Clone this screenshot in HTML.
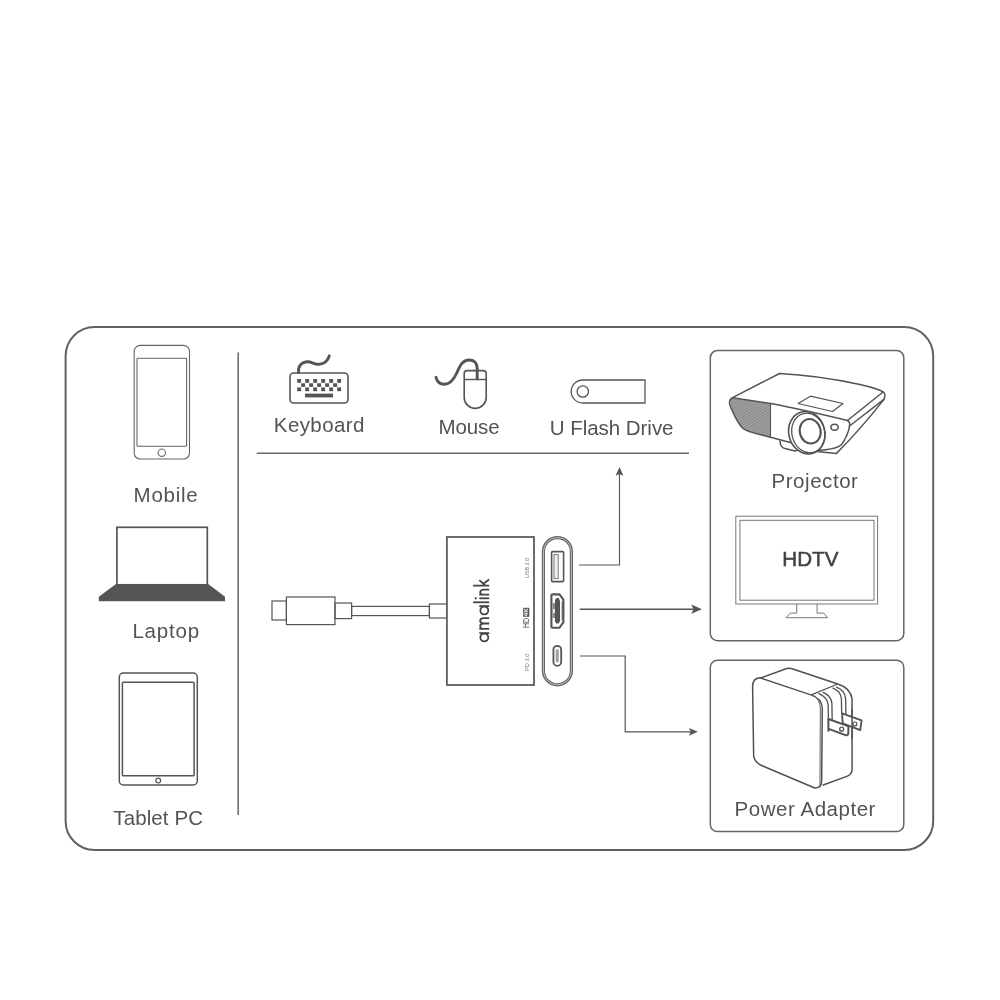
<!DOCTYPE html>
<html>
<head>
<meta charset="utf-8">
<style>
html,body{margin:0;padding:0;background:#fff;}
body{width:1000px;height:1000px;overflow:hidden;}
svg{display:block;opacity:0.999;will-change:transform;}
text{font-family:"Liberation Sans",sans-serif;}
.lbl{font-size:20.5px;fill:#535353;}
</style>
</head>
<body>
<svg width="1000" height="1000" viewBox="0 0 1000 1000">
<rect width="1000" height="1000" fill="#ffffff"/>

<!-- outer frame -->
<rect x="65.6" y="327" width="867.6" height="523" rx="29" ry="29" fill="none" stroke="#606060" stroke-width="2"/>

<!-- dividers -->
<line x1="238.2" y1="352.5" x2="238.2" y2="815" stroke="#666" stroke-width="1.5"/>
<line x1="256.8" y1="453.2" x2="689" y2="453.2" stroke="#666" stroke-width="1.4"/>

<!-- right boxes -->
<rect x="710.3" y="350.5" width="193.5" height="290.2" rx="7.2" ry="7.2" fill="none" stroke="#666" stroke-width="1.5"/>
<rect x="710.3" y="660.2" width="193.5" height="171.4" rx="7.2" ry="7.2" fill="none" stroke="#666" stroke-width="1.5"/>

<!-- MOBILE -->
<g id="mobile" fill="none" stroke="#666" stroke-width="1.1">
  <rect x="134.2" y="345.4" width="55.3" height="113.6" rx="6" ry="6"/>
  <rect x="137" y="358.3" width="49.6" height="88" rx="0.8"/>
  <circle cx="161.8" cy="452.7" r="3.7"/>
</g>
<text class="lbl" x="133.6" y="502" textLength="64" lengthAdjust="spacing">Mobile</text>

<!-- LAPTOP -->
<g id="laptop">
  <rect x="116.9" y="527.3" width="90.4" height="57.5" fill="#fff" stroke="#555" stroke-width="1.7"/>
  <path d="M116,584 L208.2,584 L225,596.8 L225,601.2 L98.8,601.2 L98.8,596.8 Z" fill="#555"/>
</g>
<text class="lbl" x="132.4" y="638.3" textLength="66.7" lengthAdjust="spacing">Laptop</text>

<!-- TABLET -->
<g id="tablet" fill="none" stroke="#555" stroke-width="1.5">
  <rect x="119.3" y="673" width="78" height="112" rx="4" ry="4"/>
  <rect x="122.4" y="682.2" width="71.7" height="93.6" rx="0.8"/>
  <circle cx="158.2" cy="780.6" r="2.4" stroke-width="1.2"/>
</g>
<text class="lbl" x="113.3" y="824.6" textLength="89.8" lengthAdjust="spacing">Tablet PC</text>

<!-- KEYBOARD -->
<g id="keyboard">
  <rect x="290" y="373" width="58" height="30" rx="3.5" ry="3.5" fill="none" stroke="#555" stroke-width="1.6"/>
  <path d="M298.6,372.5 C297.8,367 301,362.2 307,361.8 C312,361.5 314,364.8 319,364.3 C324.5,363.7 328,360.2 329.3,355.8" fill="none" stroke="#555" stroke-width="2.9" stroke-linecap="round"/>
  <g fill="#555">
    <rect x="297.2" y="379" width="3.9" height="3.8"/><rect x="305.2" y="379" width="3.9" height="3.8"/><rect x="313.2" y="379" width="3.9" height="3.8"/><rect x="321.2" y="379" width="3.9" height="3.8"/><rect x="329.2" y="379" width="3.9" height="3.8"/><rect x="337.2" y="379" width="3.9" height="3.8"/>
    <rect x="301.2" y="383.3" width="3.9" height="3.6"/><rect x="309.2" y="383.3" width="3.9" height="3.6"/><rect x="317.2" y="383.3" width="3.9" height="3.6"/><rect x="325.2" y="383.3" width="3.9" height="3.6"/><rect x="333.2" y="383.3" width="3.9" height="3.6"/>
    <rect x="297.2" y="387.4" width="3.9" height="3.8"/><rect x="305.2" y="387.4" width="3.9" height="3.8"/><rect x="313.2" y="387.4" width="3.9" height="3.8"/><rect x="321.2" y="387.4" width="3.9" height="3.8"/><rect x="329.2" y="387.4" width="3.9" height="3.8"/><rect x="337.2" y="387.4" width="3.9" height="3.8"/>
    <rect x="305" y="393.6" width="28" height="3.8"/>
  </g>
</g>
<text class="lbl" x="273.8" y="431.6" textLength="90.6" lengthAdjust="spacing">Keyboard</text>

<!-- MOUSE -->
<g id="mouse" fill="none" stroke="#555">
  <path d="M464.2,373.6 Q464.2,370.6 467.2,370.6 L483.2,370.6 Q486.2,370.6 486.2,373.6 L486.2,397.4 A11,11 0 0 1 464.2,397.4 Z" stroke-width="1.6"/>
  <line x1="464.2" y1="379.5" x2="486.2" y2="379.5" stroke-width="1.4"/>
  <path d="M477.2,379 L477.2,368.5 C477.2,362.5 473.5,360 469.2,360 C462,360 459.5,367 456.5,373.5 C453.5,380 450,384.2 444.5,384.2 C439.5,384.2 437,381.5 436,377.3" stroke-width="2.9" stroke-linecap="round"/>
</g>
<text class="lbl" x="438.4" y="434" textLength="61.2" lengthAdjust="spacing">Mouse</text>

<!-- FLASH DRIVE -->
<g id="flash" fill="none" stroke="#555" stroke-width="1.3">
  <path d="M582.7,380 L645,380 L645,403 L582.7,403 A11.5,11.5 0 0 1 582.7,380 Z"/>
  <circle cx="582.8" cy="391.5" r="5.7"/>
</g>
<text class="lbl" x="549.7" y="434.5" textLength="123.8" lengthAdjust="spacing">U Flash Drive</text>

<!-- HUB -->
<g id="hub" fill="none" stroke="#555" stroke-width="1.2">
  <rect x="272" y="601" width="14.4" height="19"/>
  <rect x="286.4" y="597" width="48.6" height="27.6"/>
  <rect x="335" y="603" width="16.6" height="15.6"/>
  <rect x="351.6" y="606.4" width="77.8" height="9.2"/>
  <rect x="429.4" y="604" width="17.2" height="14"/>
  <rect x="446.9" y="537" width="87.1" height="148" stroke="#5e5e5e" stroke-width="1.8"/>
  <!-- port pill -->
  <rect x="543.4" y="537.6" width="28" height="147.2" rx="14" ry="14" stroke="#666" stroke-width="3.2"/>
  <rect x="543.4" y="537.6" width="28" height="147.2" rx="14" ry="14" stroke="#c9c9c9" stroke-width="0.9"/>
  <!-- USB-A -->
  <rect x="551.6" y="551.6" width="12" height="30" rx="1" stroke-width="1.6"/>
  <rect x="554" y="554.6" width="4.2" height="24" stroke-width="1" stroke="#777" fill="#f2f2f2"/>
  <!-- HDMI -->
  <path d="M552.4,594.4 L559.4,594.4 L563.4,599.6 L563.4,622.4 L559.4,627.8 L552.4,627.8 Q551.4,627.8 551.4,626.8 L551.4,595.4 Q551.4,594.4 552.4,594.4 Z" stroke-width="2.1" fill="#fff"/>
  <rect x="552.5" y="603" width="3" height="15" fill="#8a8a8a" stroke="none"/>
  <rect x="553.1" y="609" width="1.6" height="4" fill="#fff" stroke="none"/>
  <path d="M555,600 L556.4,598 L558.6,598 L560,600.5 L560,621 L558.6,623.4 L556.4,623.4 L555,621.4 Z" fill="#555" stroke="none"/>
  <rect x="561.6" y="601.5" width="1.2" height="19" fill="#666" stroke="none"/>
  <!-- USB-C -->
  <rect x="553.4" y="645.8" width="7.8" height="20" rx="3.9" ry="3.9" stroke-width="1.8"/>
  <rect x="556" y="649.5" width="2.4" height="12.6" rx="1" fill="#aaa" stroke="#888" stroke-width="0.6"/>
</g>

<!-- hub texts -->
<g transform="translate(489.1,642.5) rotate(-90)" fill="none" stroke="#444" stroke-width="1.8">
  <circle cx="5" cy="-4.8" r="3.95"/><line x1="9.4" y1="-9.8" x2="9.4" y2="0.1"/>
  <path d="M13.6,0.1 V-9.8 M13.6,-5.8 A2.7,3.1 0 0 1 19,-5.8 V0.1 M19,-5.8 A2.7,3.1 0 0 1 24.4,-5.8 V0.1"/>
  <circle cx="32" cy="-4.8" r="3.95"/><line x1="36.4" y1="-9.8" x2="36.4" y2="0.1"/>
  <line x1="40.2" y1="-16" x2="40.2" y2="0.1"/>
  <line x1="44.2" y1="-9.8" x2="44.2" y2="0.1"/><circle cx="44.2" cy="-13.4" r="0.5" stroke-width="1.3"/>
  <path d="M47.8,0.1 V-9.8 M47.8,-5.6 A2.5,3.3 0 0 1 52.8,-5.6 V0.1"/>
  <path d="M56.8,-16 V0.1 M57,-3.8 L62.4,-9.8 M58.8,-5.8 L63,0"/>
</g>
<g fill="#777">
  <text transform="translate(528.8,578) rotate(-90)" font-size="5.6" textLength="20" lengthAdjust="spacingAndGlyphs">USB 3.0</text>
  <text transform="translate(528.6,671) rotate(-90)" font-size="5.4" textLength="17.4" lengthAdjust="spacingAndGlyphs">PD 3.0</text>
</g>
<text transform="translate(528.9,628) rotate(-90)" font-size="8.2" fill="#4a4a4a" textLength="10.2" lengthAdjust="spacingAndGlyphs">HD</text>
<rect x="523.2" y="607.8" width="6.1" height="9" fill="#555"/>
<text transform="translate(528.4,616.2) rotate(-90)" font-size="5.6" fill="#fff" font-weight="bold" textLength="7.8" lengthAdjust="spacingAndGlyphs">4K</text>

<!-- ARROWS -->
<g fill="none" stroke="#555">
  <path d="M579,565 L619.5,565 L619.5,474" stroke-width="1.1"/>
  <path d="M579.8,609.2 L694,609.2" stroke-width="1.6"/>
  <path d="M579.8,656 L625.2,656 L625.2,731.8 L691,731.8" stroke-width="1.2"/>
</g>
<g fill="#555">
  <path d="M619.5,467 L623.4,475.8 L619.5,474 L615.6,475.8 Z"/>
  <path d="M702,609.2 L691.3,613.8 L693.5,609.2 L691.3,604.6 Z"/>
  <path d="M697.8,731.8 L689,735.7 L690.8,731.8 L689,727.9 Z"/>
</g>

<!-- PROJECTOR -->
<defs>
  <pattern id="hatch" width="2.4" height="2.4" patternUnits="userSpaceOnUse" patternTransform="rotate(-32)">
    <rect width="2.4" height="2.4" fill="#a6a6a6"/>
    <rect width="2.4" height="1.3" fill="#8b8b8b"/>
  </pattern>
</defs>
<g id="projector" fill="none" stroke="#535353" stroke-width="1.5" stroke-linejoin="round" stroke-linecap="round">
  <!-- grille fill -->
  <path d="M732.8,398 L770.5,403.6 L770.5,437.2 L747,430.6 C741,428.5 738,424 734.5,416 C731,408 728,401 732.8,398 Z" fill="url(#hatch)" stroke="none"/>
  <!-- top outline -->
  <path d="M732.6,397.6 L779.5,373.5 C800,374.5 830,378 860,384.5 C872,387.3 880,389.8 883.2,391.8 C885.6,393.3 885.4,396 883.8,399.6"/>
  <!-- front top edge -->
  <path d="M732.6,397.8 L770.5,403.5 Q798,408.5 847.5,420.5"/>
  <!-- left/front-bottom -->
  <path d="M732.6,397.8 C728.5,399.5 729,404 731,408 C734,415 738,424 743,428.5 C746,431 750,432 770.5,437.3 L796,444"/>
  <line x1="770.5" y1="403.5" x2="770.5" y2="437.3" stroke-width="1.1"/>
  <!-- right bevels -->
  <path d="M847.5,420.5 L883,392"/>
  <path d="M849.5,426 L883.6,399.6"/>
  <path d="M847.5,420.5 C850,422 850,424 849.5,426 C849,430 846,438 842,444 C839,447.5 833,449.5 819,450.2"/>
  <path d="M883.8,399.6 C874,412 852,438 836.2,453.6 L817,451.6"/>
  <!-- foot -->
  <path d="M780,441 L780.6,444.8 C781.5,447 783,448 785,448.6 L795,451 L799,449.5"/>
  <!-- top panel -->
  <path d="M798,403.5 L810.5,396.2 L843,403.5 L832.5,411.5 Z" stroke-width="1.2"/>
  <!-- lens -->
  <ellipse cx="806.8" cy="432.7" rx="18" ry="21.4" transform="rotate(-14 806.8 432.7)" fill="#fff" stroke-width="1.6"/>
  <ellipse cx="808.3" cy="433" rx="16.4" ry="20" transform="rotate(-14 808.3 433)" stroke-width="1.3"/>
  <ellipse cx="810.2" cy="431.3" rx="10.4" ry="12.3" transform="rotate(-12 810.2 431.3)" stroke-width="2.1"/>
  <ellipse cx="834.5" cy="427.2" rx="3.7" ry="3" stroke-width="1.6"/>
</g>
<text class="lbl" x="771.5" y="487.5" textLength="86.4" lengthAdjust="spacing">Projector</text>

<!-- TV -->
<g id="tv" fill="none" stroke="#777" stroke-width="1">
  <rect x="735.8" y="516.2" width="141.8" height="87.8"/>
  <rect x="739.9" y="520.3" width="134.1" height="79.9"/>
  <path d="M796.8,604 L796.8,613.1 L790.2,613.1 L786.1,617.7 L827.6,617.7 L823.7,613.1 L817.1,613.1 L817.1,604"/>
</g>
<text x="782.3" y="566" font-size="20.6" fill="#444" stroke="#444" stroke-width="0.55" textLength="56.2" lengthAdjust="spacing">HDTV</text>

<!-- POWER ADAPTER -->
<g id="adapter" fill="none" stroke="#505050" stroke-linejoin="round" stroke-linecap="round" transform="translate(740,660) scale(0.13)">
  <g stroke-width="11.5">
  <!-- top/back face -->
  <path d="M125,150 L360,65 Q375,60 395,66 L752,185 Q850,215 862,300 L862,840 Q862,880 822,895 L640,962"/>
  <!-- recess line -->
  <path d="M548,268 L752,185" stroke-width="9"/>
  <!-- front face -->
  <path d="M97,205 Q97,140 155,137 L545,268 Q630,295 633,370 L628,935 Q626,985 575,985 L175,815 Q110,790 105,735 Z" fill="#fff"/>
  <path d="M560,272 Q615,300 618,370 L615,975" stroke-width="7"/>
  <!-- slots -->
  <path d="M607,258 Q672,285 678,345 L680,450" stroke-width="10"/>
  <path d="M639,249 Q702,275 707,335 L709,462" stroke-width="10"/>
  <path d="M715,217 Q775,240 780,300 L782,406" stroke-width="10"/>
  <path d="M742,209 Q806,232 812,295 L815,420" stroke-width="10"/>
  <!-- prong 2 (back) -->
  <path d="M785,411 L935,465 L925,540 L790,487 Z" fill="#fff" stroke-width="14"/>
  <circle cx="884" cy="492" r="15" stroke-width="9"/>
  <path d="M862,380 L862,600"/>
  <!-- prong 1 (front) -->
  <path d="M680,454 L826,507 Q834,511 834,520 L833,565 Q831,580 817,580 L682,530 L680,545 Z" fill="#fff" stroke-width="15"/>
  <circle cx="782" cy="532" r="15" stroke-width="10"/>
  </g>
</g>
<text class="lbl" x="734.6" y="815.7" textLength="140.8" lengthAdjust="spacing">Power Adapter</text>

</svg>
</body>
</html>
